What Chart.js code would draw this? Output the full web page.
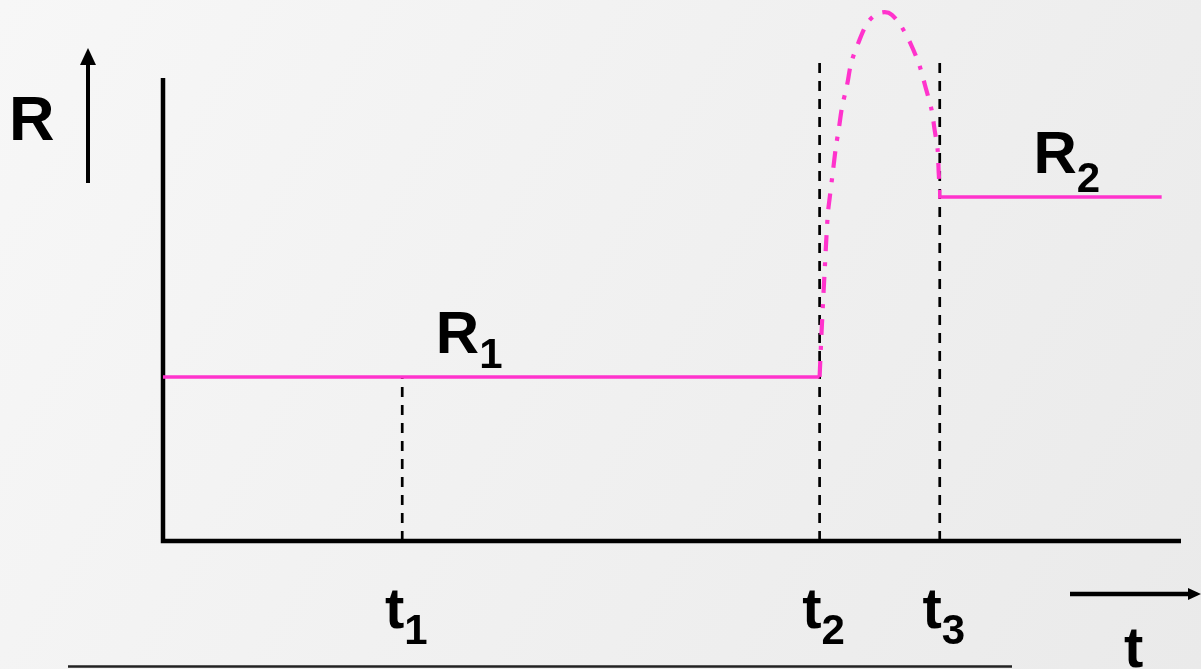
<!DOCTYPE html>
<html>
<head>
<meta charset="utf-8">
<script src="https://cdn.jsdelivr.net/npm/chart.js@4.4.0/dist/chart.umd.min.js"></script>
<style>
  html, body { margin: 0; padding: 0; overflow: hidden; background: #efefef; }
  canvas { display: block; }
</style>
</head>
<body>
<canvas id="chart" width="1201" height="669"></canvas>
<script>
// ── Data: time runs 0–100 along t, resistance 0–100 along R ──
const markTimes = [23.5, 64.5, 76.3];
const markNames = ['1', '2', '3'];
const markTops = [30.9, 90.0, 90.0];

const r1Times = [0, 64.5];
const r1Values = [30.9, 30.9];

const surgeTimes = [64.5, 64.7, 65.0, 65.3, 65.5, 65.8, 66.1, 66.4, 66.7, 67.2, 67.6, 68.3, 69.2,
  70.1, 70.9, 71.6, 72.5, 73.5, 74.3, 74.9, 75.5, 75.8, 76.1, 76.2, 76.3];
const surgeValues = [30.9, 39.7, 51.0, 61.4, 64.8, 69.5, 74.2, 77.8, 81.7, 85.9, 90.0, 93.8, 97.6,
  99.2, 99.6, 99.1, 97.0, 93.4, 89.6, 85.5, 81.2, 77.4, 73.6, 69.3, 66.1];

const r2Times = [76.3, 76.3, 98.1];
const r2Values = [66.1, 64.8, 64.8];

const axisTimes = [0, 0, 100];
const axisValues = [87.2, 0, 0];

const PINK = '#ff33cc';
const FONT = '"Liberation Sans", Arial, sans-serif';

const pts = (xs, ys) => xs.map((x, i) => ({ x: x, y: ys[i] }));

// ── Dashed guides at t1, t2, t3 ──
const guideSets = markTimes.map((t, i) => ({
  data: pts([t, t], [0, markTops[i]]),
  borderColor: '#000', borderWidth: 2.7, borderDash: [10, 8],
  pointRadius: 0, order: 2
}));

// ── Labels, arrows, background ──
function drawSub(ctx, main, sub, x, y, mainSize, subSize, drop) {
  ctx.font = 'bold ' + mainSize + 'px ' + FONT;
  ctx.textAlign = 'left';
  ctx.textBaseline = 'alphabetic';
  ctx.fillText(main, x, y);
  const w = ctx.measureText(main).width;
  if (sub) {
    ctx.font = 'bold ' + subSize + 'px ' + FONT;
    ctx.fillText(sub, x + w, y + drop);
  }
  return w;
}

const decor = {
  id: 'decor',
  beforeDraw(chart) {
    const ctx = chart.ctx;
    const g = ctx.createLinearGradient(0, 0, chart.width, chart.height);
    g.addColorStop(0, '#f7f7f7');
    g.addColorStop(1, '#eaeaea');
    ctx.save();
    ctx.fillStyle = g;
    ctx.fillRect(0, 0, chart.width, chart.height);
    ctx.restore();
  },
  afterDraw(chart) {
    const ctx = chart.ctx;
    const xs = chart.scales.x, ys = chart.scales.y;
    ctx.save();
    ctx.fillStyle = '#000';
    ctx.strokeStyle = '#000';

    // axis names
    drawSub(ctx, 'R', '', 9, 140, 63, 0, 0);
    drawSub(ctx, 'R', '1', xs.getPixelForValue(26.8), ys.getPixelForValue(35.4), 60, 42, 15);
    drawSub(ctx, 'R', '2', xs.getPixelForValue(85.5), ys.getPixelForValue(69.3), 60, 42, 19);

    // t1, t2, t3 under the guides
    markTimes.forEach((t, i) => {
      const px = xs.getPixelForValue(t);
      ctx.font = 'bold 58px ' + FONT;
      const w = ctx.measureText('t').width;
      drawSub(ctx, 't', markNames[i], px - w + 2, 628, 58, 42, 16);
    });
    drawSub(ctx, 't', '', 1124, 667, 58, 0, 0);

    // R arrow
    ctx.lineWidth = 4;
    ctx.beginPath();
    ctx.moveTo(88, 183); ctx.lineTo(88, 62);
    ctx.stroke();
    ctx.beginPath();
    ctx.moveTo(88, 48); ctx.lineTo(80, 65); ctx.lineTo(96, 65); ctx.closePath();
    ctx.fill();

    // t arrow
    ctx.lineWidth = 4.5;
    ctx.beginPath();
    ctx.moveTo(1070, 594); ctx.lineTo(1190, 594);
    ctx.stroke();
    ctx.beginPath();
    ctx.moveTo(1201, 594); ctx.lineTo(1188, 588); ctx.lineTo(1188, 600); ctx.closePath();
    ctx.fill();

    // rule under the picture
    ctx.strokeStyle = '#222';
    ctx.lineWidth = 2.5;
    ctx.beginPath();
    ctx.moveTo(68, 666.5); ctx.lineTo(1012, 666.5);
    ctx.stroke();
    ctx.restore();
  }
};

new Chart(document.getElementById('chart'), {
  type: 'line',
  data: {
    datasets: [
      { data: pts(r1Times, r1Values), borderColor: PINK, borderWidth: 3.5, pointRadius: 0, order: 1 },
      { data: pts(surgeTimes, surgeValues), borderColor: PINK, borderWidth: 4.2, borderDash: [16, 11, 4, 11],
        tension: 0.3, pointRadius: 0, order: 1 },
      { data: pts(r2Times, r2Values), borderColor: PINK, borderWidth: 3.5, pointRadius: 0, order: 1 },
      ...guideSets,
      { data: pts(axisTimes, axisValues), borderColor: '#000', borderWidth: 4.5, pointRadius: 0,
        borderJoinStyle: 'miter', order: 3 }
    ]
  },
  options: {
    responsive: false,
    animation: false,
    devicePixelRatio: 1,
    layout: { padding: { left: 163, right: 20, top: 10, bottom: 128 } },
    plugins: { legend: { display: false }, tooltip: { enabled: false } },
    scales: {
      x: { type: 'linear', min: 0, max: 100, display: false },
      y: { type: 'linear', min: 0, max: 100, display: false }
    },
    elements: { line: { fill: false, borderCapStyle: 'butt' } },
    clip: false
  },
  plugins: [decor]
});
</script>
</body>
</html>
